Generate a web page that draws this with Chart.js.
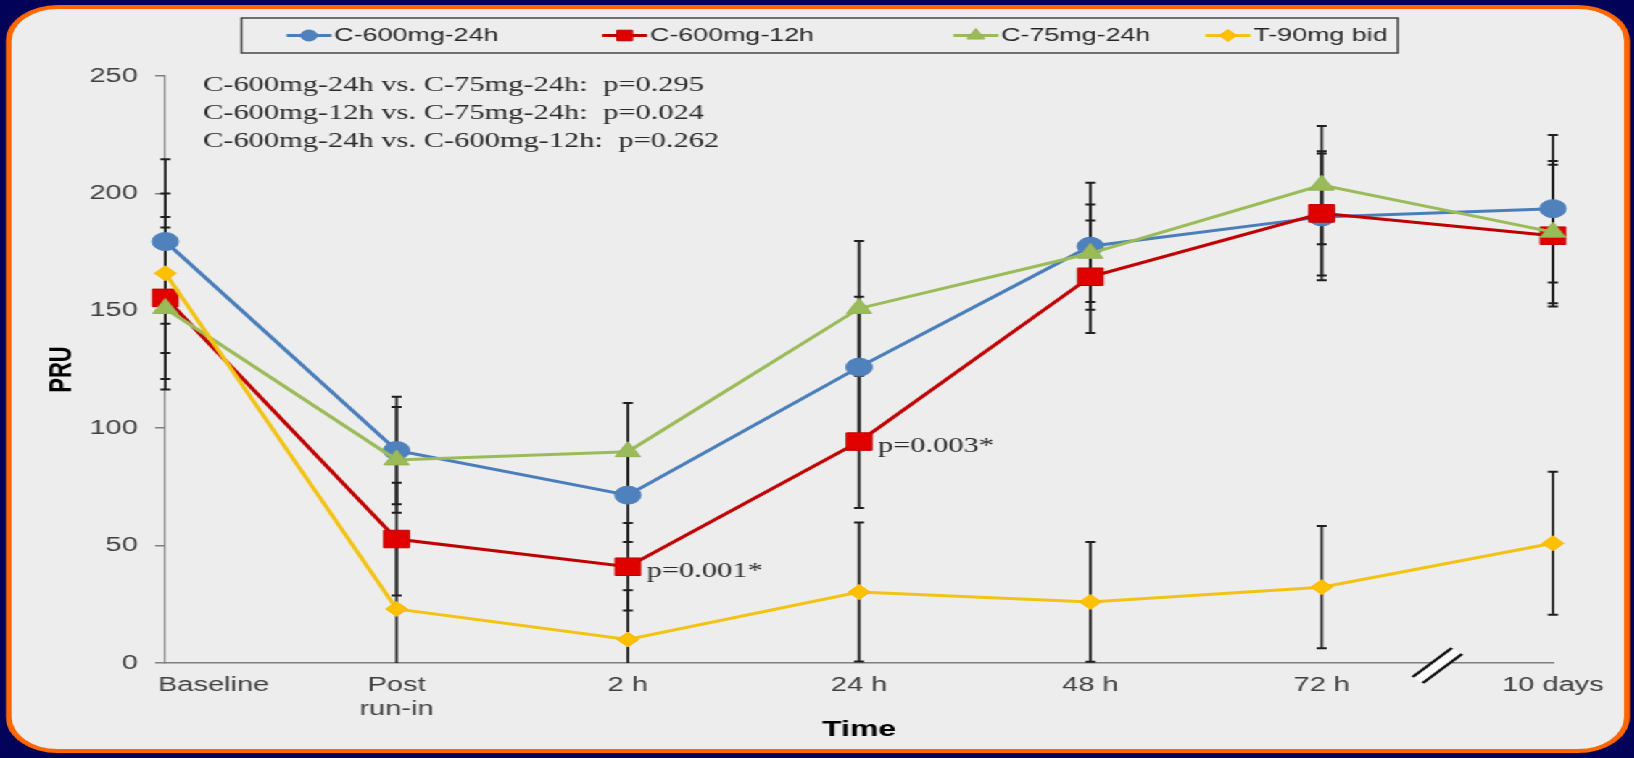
<!DOCTYPE html>
<html>
<head>
<meta charset="utf-8">
<title>PRU over time</title>
<script src="https://cdn.jsdelivr.net/npm/chart.js@4.4.1/dist/chart.umd.min.js"></script>
<style>
  html, body { margin: 0; padding: 0; }
  body { width: 1634px; height: 758px; background: #020258; overflow: hidden; position: relative; }
  /* the source slide is stretched sideways, so the whole chart is drawn narrow and scaled in x */
  #wrap { position: absolute; left: 0; top: 0; width: 1127px; height: 758px; transform: scaleX(1.45); transform-origin: 0 0; }
  #panel { position: absolute; left: 4px; top: 5px; width: 1112px; height: 740px; background: #ededed; border: 4px solid #ff6600; border-radius: 36px; }
  #pru { position: absolute; left: 0; top: 0; }
</style>
</head>
<body>
<div id="wrap">
  <div id="panel"></div>
  <canvas id="pru" width="1127" height="758"></canvas>
</div>
<script>
// data
const categories = ["Baseline", ["Post", "run-in"], "2 h", "24 h", "48 h", "72 h", "10 days"];
const seriesNames = ["C-600mg-24h", "C-600mg-12h", "C-75mg-24h", "T-90mg bid"];
const c600x24 = [179.5, 90.5, 71.5, 126, 177.5, 190, 193.5];
const c600x12 = [155.5, 52.8, 41, 94.3, 164.5, 191.5, 182];
const c75x24 = [151, 86.5, 90, 151, 174.5, 203.5, 183.5];
const t90bid = [166, 23, 10, 30.2, 26, 32.3, 51];
// error bar half widths (SD)
const c600x24Sd = [35, 22.9, 20, 30, 27, 27, 31.4];
const c600x12Sd = [34.5, 24, 18.6, 28.3, 24, 26.5, 30.2];
const c75x24Sd = [34.5, 22.5, 20.7, 28.7, 20.8, 25.2, 30.3];
const t90bidSd = [34, 30, 21, 29.6, 25.5, 26, 30.4];
const yTicks = [0, 50, 100, 150, 200, 250];
const c600x12Notes = [null, null, "p=0.001*", "p=0.003*", null, null, null];
const comparisons = [
  "C-600mg-24h vs. C-75mg-24h:  p=0.295",
  "C-600mg-12h vs. C-75mg-24h:  p=0.024",
  "C-600mg-24h vs. C-600mg-12h:  p=0.262"
];
const breakAt = 5.5; // axis break between 72 h and 10 days

const sans = '"Liberation Sans", Arial, sans-serif';
const serif = '"Liberation Serif", "Times New Roman", serif';
Chart.defaults.font.family = sans;

const errors = [c600x24Sd, c600x12Sd, c75x24Sd, t90bidSd];
const legendRadius = { circle: 5.5, rect: 7.5, triangle: 7, rectRot: 6 };
const legendStarts = [197.6, 415.3, 657.5, 831.4];

// vertical error bars with caps, under the lines
const errorBars = {
  id: "errorBars",
  beforeDatasetsDraw(chart) {
    const { ctx, scales: { y } } = chart;
    ctx.save();
    ctx.strokeStyle = "#1e1e1e";
    chart.data.datasets.forEach((ds, i) => {
      const sd = errors[i];
      chart.getDatasetMeta(i).data.forEach((pt, j) => {
        const v = ds.data[j];
        const hi = y.getPixelForValue(Math.min(y.max, v + sd[j]));
        const lo = y.getPixelForValue(Math.max(y.min, v - sd[j]));
        ctx.lineWidth = 1.8;
        ctx.beginPath();
        ctx.moveTo(pt.x, hi);
        ctx.lineTo(pt.x, lo);
        ctx.stroke();
        ctx.lineWidth = 2;
        ctx.beginPath();
        ctx.moveTo(pt.x - 3.5, hi);
        ctx.lineTo(pt.x + 3.5, hi);
        if (v - sd[j] > y.min) {
          ctx.moveTo(pt.x - 3.5, lo);
          ctx.lineTo(pt.x + 3.5, lo);
        }
        ctx.stroke();
      });
    });
    ctx.restore();
  }
};

// "Baseline" sits left-aligned on the y axis, the rest are centred
const baselineLabel = {
  id: "baselineLabel",
  beforeDraw(chart) {
    const xs = chart.scales.x;
    if (!xs.getLabelItems) return;
    const items = xs.getLabelItems();
    if (items && items[0] && items[0].options) {
      items[0].options.textAlign = "left";
      items[0].options.translation[0] = chart.chartArea.left - 5;
    }
  }
};

// the // break on the x axis
const axisBreak = {
  id: "axisBreak",
  afterDraw(chart) {
    const { ctx, chartArea, scales: { x } } = chart;
    const cx = x.getPixelForValue(breakAt);
    const cy = chartArea.bottom;
    const a0 = [cx - 17, cy + 14], a1 = [cx + 10, cy - 15];
    const b0 = [cx - 10, cy + 20], b1 = [cx + 17, cy - 9];
    ctx.save();
    ctx.fillStyle = "#ffffff";
    ctx.beginPath();
    ctx.moveTo(a0[0], a0[1]);
    ctx.lineTo(a1[0], a1[1]);
    ctx.lineTo(b1[0], b1[1]);
    ctx.lineTo(b0[0], b0[1]);
    ctx.closePath();
    ctx.fill();
    ctx.strokeStyle = "#111";
    ctx.lineWidth = 2.4;
    ctx.beginPath();
    ctx.moveTo(a0[0], a0[1]); ctx.lineTo(a1[0], a1[1]);
    ctx.moveTo(b0[0], b0[1]); ctx.lineTo(b1[0], b1[1]);
    ctx.stroke();
    ctx.restore();
  }
};

// comparison block and p-value texts
const notes = {
  id: "notes",
  afterDraw(chart) {
    const ctx = chart.ctx;
    ctx.save();
    ctx.fillStyle = "#2a2a2a";
    ctx.font = "21px " + serif;
    ctx.textBaseline = "alphabetic";
    comparisons.forEach((t, i) => ctx.fillText(t, 140, 91 + i * 28));
    ctx.textBaseline = "middle";
    const meta = chart.getDatasetMeta(1);
    c600x12Notes.forEach((t, j) => {
      if (!t) return;
      const pt = meta.data[j];
      ctx.fillText(t, pt.x + 13, pt.y + 5);
    });
    ctx.restore();
  }
};

// boxed legend with line + marker samples
const boxLegend = {
  id: "boxLegend",
  afterDraw(chart) {
    const ctx = chart.ctx;
    const boxL = 166.5, boxR = 964, symW = 33;
    ctx.save();
    ctx.font = "18.5px " + sans;
    ctx.strokeStyle = "#3a3a3a";
    ctx.lineWidth = 1.4;
    ctx.strokeRect(boxL, 18, boxR - boxL, 35);
    ctx.textBaseline = "middle";
    const cy = 35.5;
    chart.data.datasets.forEach((ds, i) => {
      const xPos = legendStarts[i];
      ctx.strokeStyle = ds.borderColor;
      ctx.lineWidth = 3;
      ctx.beginPath();
      ctx.moveTo(xPos, cy);
      ctx.lineTo(xPos + symW - 2, cy);
      ctx.stroke();
      ctx.fillStyle = ds.pointBackgroundColor;
      ctx.strokeStyle = ds.pointBorderColor;
      ctx.lineWidth = 1;
      const mx = xPos + (symW - 2) / 2;
      if (Chart.helpers && Chart.helpers.drawPoint) {
        Chart.helpers.drawPoint(ctx, { pointStyle: ds.pointStyle, radius: legendRadius[ds.pointStyle], borderWidth: 1, rotation: 0 }, mx, cy);
      } else {
        ctx.beginPath();
        ctx.arc(mx, cy, 5.5, 0, Math.PI * 2);
        ctx.fill();
      }
      ctx.fillStyle = "#262626";
      ctx.fillText(ds.label, xPos + symW, cy);
    });
    ctx.restore();
  }
};

new Chart(document.getElementById("pru"), {
  type: "line",
  data: {
    labels: categories,
    datasets: [
      { label: seriesNames[0], data: c600x24, borderColor: "#4a7ebb", pointBackgroundColor: "#4f81bd", pointBorderColor: "#4a7ebb", pointStyle: "circle", pointRadius: 9, order: 4 },
      { label: seriesNames[1], data: c600x12, borderColor: "#c00000", pointBackgroundColor: "#e00000", pointBorderColor: "#c00000", pointStyle: "rect", pointRadius: 12.4, order: 3 },
      { label: seriesNames[2], data: c75x24, borderColor: "#9bbb59", pointBackgroundColor: "#9bbb59", pointBorderColor: "#93b354", pointStyle: "triangle", pointRadius: 10, order: 2 },
      { label: seriesNames[3], data: t90bid, borderColor: "#f2c314", pointBackgroundColor: "#ffc000", pointBorderColor: "#f5b800", pointStyle: "rectRot", pointRadius: 7.5, order: 1 }
    ]
  },
  options: {
    responsive: false,
    devicePixelRatio: 1,
    animation: false,
    layout: { padding: { top: 76, right: 56, bottom: 0, left: 20 } },
    elements: {
      line: { borderWidth: 3, tension: 0, fill: false },
      point: { borderWidth: 1, hoverRadius: 9 }
    },
    plugins: {
      legend: { display: false },
      tooltip: { enabled: false }
    },
    scales: {
      x: {
        type: "category",
        offset: false,
        grid: { display: false, drawTicks: false },
        border: { display: true, color: "#7f7f7f", width: 1.5 },
        ticks: { color: "#404040", font: { size: 20 }, padding: 10, maxRotation: 0, autoSkip: false },
        title: { display: true, text: "Time", color: "#000", font: { size: 22, weight: "bold" }, padding: { top: 0, bottom: 15 } },
        afterFit(scale) { scale.height = 95; }
      },
      y: {
        min: yTicks[0],
        max: yTicks[yTicks.length - 1],
        grid: { display: true, drawOnChartArea: false, drawTicks: true, tickLength: 7, color: "#7f7f7f", lineWidth: 1.5 },
        border: { display: true, color: "#7f7f7f", width: 1.2 },
        ticks: { stepSize: yTicks[1] - yTicks[0], color: "#404040", font: { size: 20 }, padding: 12 },
        title: { display: true, text: "PRU", color: "#000", font: { size: 22, weight: "bold" }, padding: { top: 10, bottom: 0 } },
        afterFit(scale) { scale.width = 94; }
      }
    }
  },
  plugins: [errorBars, baselineLabel, axisBreak, notes, boxLegend]
});
</script>
</body>
</html>
